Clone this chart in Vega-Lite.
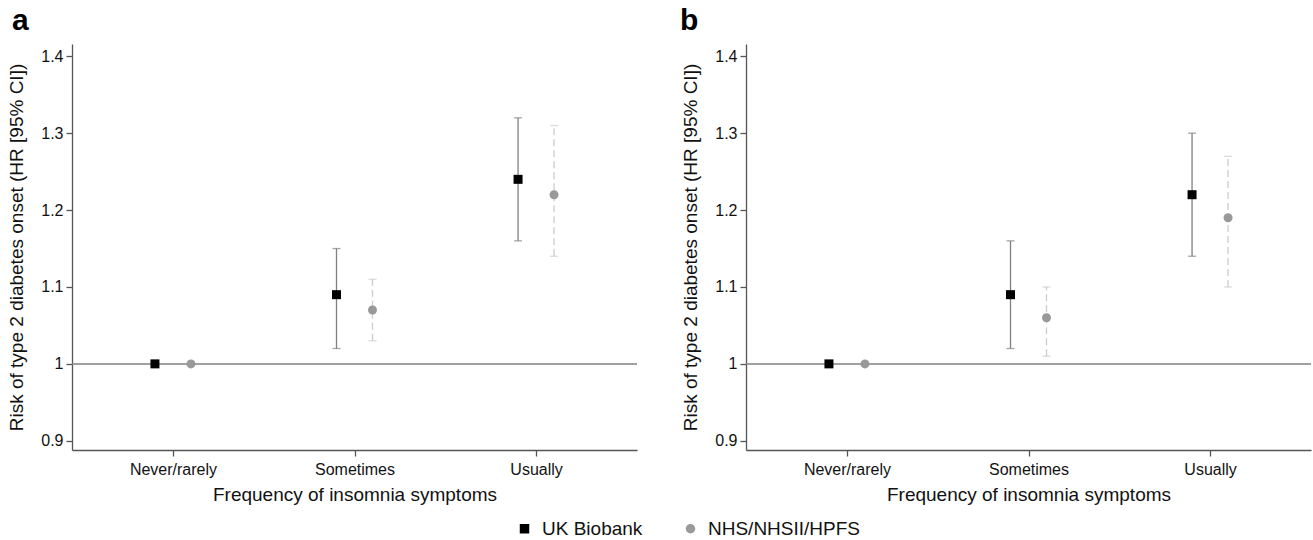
{
  "$schema": "https://vega.github.io/schema/vega-lite/v6.json",
  "padding": {"left": 7, "top": 6, "right": 0, "bottom": 0},
  "config": {
    "font": "Liberation Sans",
    "view": {"stroke": null},
    "axis": {
      "labelFont": "Liberation Sans", "labelFontSize": 16, "labelColor": "#111",
      "titleFont": "Liberation Sans", "titleFontSize": 19, "titleFontWeight": "normal", "titleColor": "#111",
      "domainColor": "#555", "tickColor": "#555", "grid": false, "domainWidth": 1.3, "tickWidth": 1.3
    },
    "legend": {"labelFont": "Liberation Sans"}
  },
  "data": {"values": [
    {"panel": "a", "freq": "Never/rarely", "cohort": "UK Biobank", "hr": 1.00, "lo": null, "hi": null},
    {"panel": "a", "freq": "Sometimes", "cohort": "UK Biobank", "hr": 1.09, "lo": 1.02, "hi": 1.15},
    {"panel": "a", "freq": "Usually", "cohort": "UK Biobank", "hr": 1.24, "lo": 1.16, "hi": 1.32},
    {"panel": "a", "freq": "Never/rarely", "cohort": "NHS/NHSII/HPFS", "hr": 1.00, "lo": null, "hi": null},
    {"panel": "a", "freq": "Sometimes", "cohort": "NHS/NHSII/HPFS", "hr": 1.07, "lo": 1.03, "hi": 1.11},
    {"panel": "a", "freq": "Usually", "cohort": "NHS/NHSII/HPFS", "hr": 1.22, "lo": 1.14, "hi": 1.31},
    {"panel": "b", "freq": "Never/rarely", "cohort": "UK Biobank", "hr": 1.00, "lo": null, "hi": null},
    {"panel": "b", "freq": "Sometimes", "cohort": "UK Biobank", "hr": 1.09, "lo": 1.02, "hi": 1.16},
    {"panel": "b", "freq": "Usually", "cohort": "UK Biobank", "hr": 1.22, "lo": 1.14, "hi": 1.30},
    {"panel": "b", "freq": "Never/rarely", "cohort": "NHS/NHSII/HPFS", "hr": 1.00, "lo": null, "hi": null},
    {"panel": "b", "freq": "Sometimes", "cohort": "NHS/NHSII/HPFS", "hr": 1.06, "lo": 1.01, "hi": 1.10},
    {"panel": "b", "freq": "Usually", "cohort": "NHS/NHSII/HPFS", "hr": 1.19, "lo": 1.10, "hi": 1.27}
  ]},
  "spacing": 42,
  "resolve": {"scale": {"color": "shared", "shape": "shared"}, "legend": {"color": "shared", "shape": "shared"}},
  "hconcat": [
    {
      "width": 565, "height": 406,
      "title": {"text": "a", "anchor": "start", "frame": "group", "fontSize": 30, "fontWeight": "bold", "dx": -60, "offset": 8, "font": "Liberation Sans", "color": "#000"},
      "transform": [{"filter": "datum.panel == 'a'"}],
      "encoding": {
        "x": {"field": "freq", "type": "nominal", "scale": {"type": "point", "padding": 0.556, "domain": ["Never/rarely", "Sometimes", "Usually"]}, "axis": {"title": "Frequency of insomnia symptoms", "labelAngle": 0, "tickSize": 6, "labelPadding": 5, "titlePadding": 8}},
        "xOffset": {"field": "cohort", "type": "nominal", "scale": {"type": "point", "padding": 0, "domain": ["UK Biobank", "NHS/NHSII/HPFS"], "range": [-18, 18]}}
      },
      "layer": [
        {
          "transform": [{"filter": "datum.freq == 'Never/rarely' && datum.cohort == 'UK Biobank'"}],
          "mark": {"type": "rule", "color": "#808080", "strokeWidth": 1.5},
          "encoding": {"x": null, "xOffset": null, "y": {"datum": 1, "type": "quantitative", "scale": {"domain": [0.888, 1.416], "nice": false, "zero": false}, "axis": {"title": "Risk of type 2 diabetes onset (HR [95% CI])", "values": [0.9, 1.0, 1.1, 1.2, 1.3, 1.4], "format": ".1~f", "tickSize": 6, "labelPadding": 3, "titlePadding": 14}}}
        },
        {
          "transform": [{"filter": "datum.cohort == 'UK Biobank' && datum.lo != null"}],
          "mark": {"type": "rule", "color": "#808080", "strokeWidth": 1.3},
          "encoding": {"y": {"field": "lo", "type": "quantitative"}, "y2": {"field": "hi"}}
        },
        {
          "transform": [{"filter": "datum.cohort == 'NHS/NHSII/HPFS' && datum.lo != null"}],
          "mark": {"type": "rule", "color": "#cccccc", "strokeWidth": 1.3, "strokeDash": [7, 4]},
          "encoding": {"y": {"field": "lo", "type": "quantitative"}, "y2": {"field": "hi"}}
        },
        {
          "transform": [{"filter": "datum.cohort == 'UK Biobank' && datum.lo != null"}, {"fold": ["lo", "hi"], "as": ["bound", "val"]}],
          "mark": {"type": "tick", "color": "#808080", "thickness": 1.3, "size": 8, "orient": "horizontal"},
          "encoding": {"y": {"field": "val", "type": "quantitative"}}
        },
        {
          "transform": [{"filter": "datum.cohort == 'NHS/NHSII/HPFS' && datum.lo != null"}, {"fold": ["lo", "hi"], "as": ["bound", "val"]}],
          "mark": {"type": "tick", "color": "#cccccc", "thickness": 1.3, "size": 8, "orient": "horizontal"},
          "encoding": {"y": {"field": "val", "type": "quantitative"}}
        },
        {
          "mark": {"type": "point", "filled": true, "size": 81, "opacity": 1},
          "encoding": {
            "y": {"field": "hr", "type": "quantitative"},
            "color": {"field": "cohort", "type": "nominal", "scale": {"domain": ["UK Biobank", "NHS/NHSII/HPFS"], "range": ["#000000", "#999999"]}, "legend": {"orient": "none", "direction": "horizontal", "legendX": 443, "legendY": 475, "title": null, "labelFontSize": 19, "labelColor": "#111", "symbolSize": 90, "columnPadding": 38, "labelOffset": 8, "symbolStrokeWidth": 0}},
            "shape": {"field": "cohort", "type": "nominal", "scale": {"domain": ["UK Biobank", "NHS/NHSII/HPFS"], "range": ["square", "circle"]}, "legend": {"orient": "none", "direction": "horizontal", "legendX": 443, "legendY": 475, "title": null, "labelFontSize": 19, "labelColor": "#111", "symbolSize": 90, "columnPadding": 38, "labelOffset": 8, "symbolStrokeWidth": 0}}
          }
        }
      ]
    },
    {
      "width": 565, "height": 406,
      "title": {"text": "b", "anchor": "start", "frame": "group", "fontSize": 30, "fontWeight": "bold", "dx": -66, "offset": 8, "font": "Liberation Sans", "color": "#000"},
      "transform": [{"filter": "datum.panel == 'b'"}],
      "encoding": {
        "x": {"field": "freq", "type": "nominal", "scale": {"type": "point", "padding": 0.556, "domain": ["Never/rarely", "Sometimes", "Usually"]}, "axis": {"title": "Frequency of insomnia symptoms", "labelAngle": 0, "tickSize": 6, "labelPadding": 5, "titlePadding": 8}},
        "xOffset": {"field": "cohort", "type": "nominal", "scale": {"type": "point", "padding": 0, "domain": ["UK Biobank", "NHS/NHSII/HPFS"], "range": [-18, 18]}}
      },
      "layer": [
        {
          "transform": [{"filter": "datum.freq == 'Never/rarely' && datum.cohort == 'UK Biobank'"}],
          "mark": {"type": "rule", "color": "#808080", "strokeWidth": 1.5},
          "encoding": {"x": null, "xOffset": null, "y": {"datum": 1, "type": "quantitative", "scale": {"domain": [0.888, 1.416], "nice": false, "zero": false}, "axis": {"title": "Risk of type 2 diabetes onset (HR [95% CI])", "values": [0.9, 1.0, 1.1, 1.2, 1.3, 1.4], "format": ".1~f", "tickSize": 6, "labelPadding": 3, "titlePadding": 14}}}
        },
        {
          "transform": [{"filter": "datum.cohort == 'UK Biobank' && datum.lo != null"}],
          "mark": {"type": "rule", "color": "#808080", "strokeWidth": 1.3},
          "encoding": {"y": {"field": "lo", "type": "quantitative"}, "y2": {"field": "hi"}}
        },
        {
          "transform": [{"filter": "datum.cohort == 'NHS/NHSII/HPFS' && datum.lo != null"}],
          "mark": {"type": "rule", "color": "#cccccc", "strokeWidth": 1.3, "strokeDash": [7, 4]},
          "encoding": {"y": {"field": "lo", "type": "quantitative"}, "y2": {"field": "hi"}}
        },
        {
          "transform": [{"filter": "datum.cohort == 'UK Biobank' && datum.lo != null"}, {"fold": ["lo", "hi"], "as": ["bound", "val"]}],
          "mark": {"type": "tick", "color": "#808080", "thickness": 1.3, "size": 8, "orient": "horizontal"},
          "encoding": {"y": {"field": "val", "type": "quantitative"}}
        },
        {
          "transform": [{"filter": "datum.cohort == 'NHS/NHSII/HPFS' && datum.lo != null"}, {"fold": ["lo", "hi"], "as": ["bound", "val"]}],
          "mark": {"type": "tick", "color": "#cccccc", "thickness": 1.3, "size": 8, "orient": "horizontal"},
          "encoding": {"y": {"field": "val", "type": "quantitative"}}
        },
        {
          "mark": {"type": "point", "filled": true, "size": 81, "opacity": 1},
          "encoding": {
            "y": {"field": "hr", "type": "quantitative"},
            "color": {"field": "cohort", "type": "nominal", "scale": {"domain": ["UK Biobank", "NHS/NHSII/HPFS"], "range": ["#000000", "#999999"]}, "legend": {"orient": "none", "direction": "horizontal", "legendX": 443, "legendY": 475, "title": null, "labelFontSize": 19, "labelColor": "#111", "symbolSize": 90, "columnPadding": 38, "labelOffset": 8, "symbolStrokeWidth": 0}},
            "shape": {"field": "cohort", "type": "nominal", "scale": {"domain": ["UK Biobank", "NHS/NHSII/HPFS"], "range": ["square", "circle"]}, "legend": {"orient": "none", "direction": "horizontal", "legendX": 443, "legendY": 475, "title": null, "labelFontSize": 19, "labelColor": "#111", "symbolSize": 90, "columnPadding": 38, "labelOffset": 8, "symbolStrokeWidth": 0}}
          }
        }
      ]
    }
  ]
}
